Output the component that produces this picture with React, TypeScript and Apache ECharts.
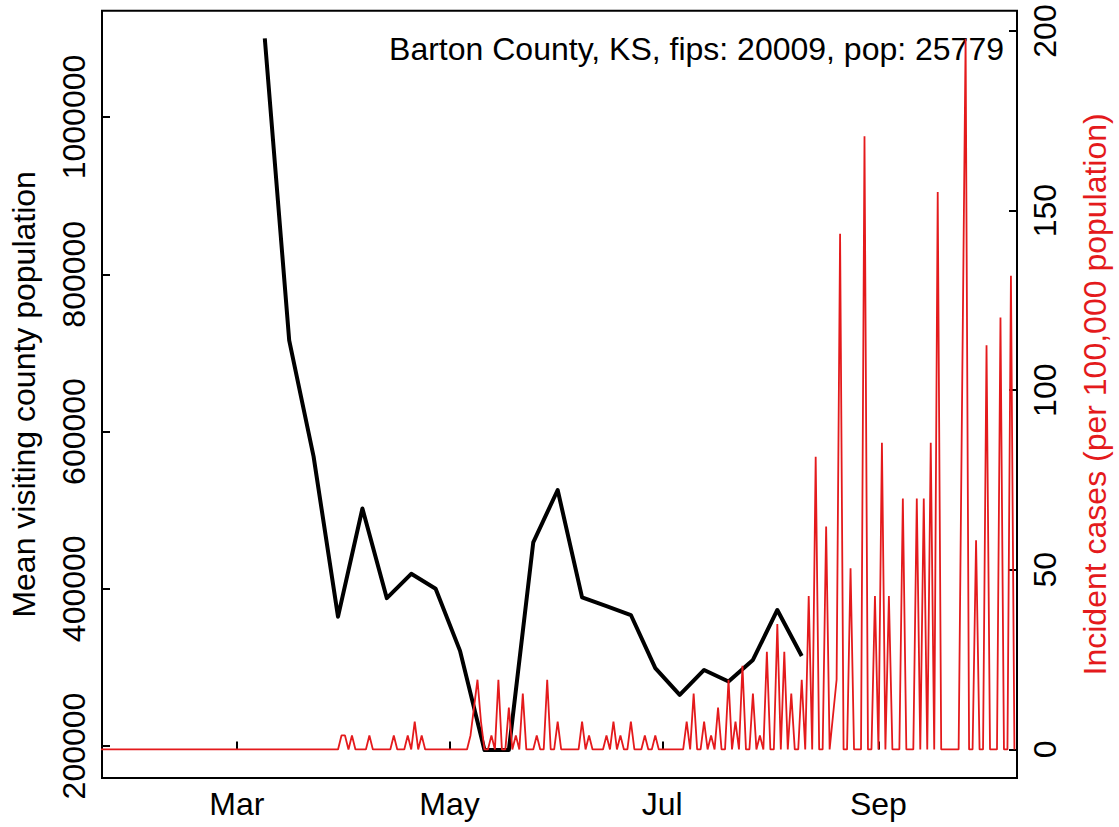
import { useEffect, useRef } from "react";
import * as echarts from "echarts";

const TITLE = "Barton County, KS, fips: 20009, pop: 25779";
const LEFT_NAME = "Mean visiting county population";
const RIGHT_NAME = "Incident cases (per 100,000 population)";

// weekly mean visiting county population
const mobilityDates = [
  "2020-03-09", "2020-03-16", "2020-03-23", "2020-03-30", "2020-04-06", "2020-04-13",
  "2020-04-20", "2020-04-27", "2020-05-04", "2020-05-11", "2020-05-18", "2020-05-25",
  "2020-06-01", "2020-06-08", "2020-06-15", "2020-06-22", "2020-06-29", "2020-07-06",
  "2020-07-13", "2020-07-20", "2020-07-27", "2020-08-03", "2020-08-10",
];
const mobilityValues = [
  1100000, 716000, 568000, 364500, 502000, 388000,
  419000, 400000, 321000, 195000, 195000, 459000,
  525600, 389000, 378000, 366600, 299000, 265000,
  296700, 282000, 309400, 373000, 314500,
];

// daily incident cases per 100,000, one value per day from caseStartDate (null = no record)
const caseStartDate = "2020-01-22";
const caseRates: (number | null)[] = [
  // Jan 22 - Mar 30
  0, 0, 0, 0, 0, 0, 0, 0, 0, 0,
  0, 0, 0, 0, 0, 0, 0, 0, 0, 0,
  0, 0, 0, 0, 0, 0, 0, 0, 0, 0,
  0, 0, 0, 0, 0, 0, 0, 0, 0, 0,
  0, 0, 0, 0, 0, 0, 0, 0, 0, 0,
  0, 0, 0, 0, 0, 0, 0, 0, 0, 0,
  0, 0, 0, 0, 0, 0, 0, 0, 0,
  // Mar 31 -
  3.88, 3.88, 0, 3.88, 0, 0, 0, 0, 3.88, 0,
  0, 0, 0, 0, 0, 3.88, 0, 0, 0, 3.88,
  0, 7.76, 0, 3.88, 0, 0, 0, 0, 0, 0,
  0, 0, 0, 0, 0, 0, 0, 3.88, 11.64, 19.4,
  7.76, 0, 0, 3.88, 0, 19.4, 0, 0, 11.64, 0,
  3.88, 0, 15.52, 0, 0, 0, 3.88, 0, 0, 19.4,
  0, 0, 7.76, 0, 0, 0, 0, 0, 0, 7.76,
  0, 3.88, 0, 0, 0, 0, 3.88, 0, 7.76, 0,
  3.88, 0, 0, 7.76, 0, 0, 0, 3.88, 0, 0,
  3.88, 0, 0, 0, 0, 0, 0, 0, 0, 7.76,
  0, 15.52, 0, 0, 7.76, 0, 3.88, 0, 11.64, 0,
  0, 19.4, 0, 7.76, 0, 23.27, 0, 0, 15.52, 0,
  3.88, 0, 27.15, 0, 0, 34.91, 0, 27.15, 0, 15.52,
  0, 0, 19.4, 0, 42.67, 0, 81.46, 0, 0, 62.07,
  0, null, 19.4, 143.53, 0, 0, 50.43, 0, 0, 0,
  170.68, 0, 0, 42.67, 0, 85.34, 0, 42.67, 0, 0,
  0, 69.82, 0, 0, 0, 69.82, 0, 69.82, 0, 85.34,
  0, 155.17, 0, 0, 0, 0, 0, 0, null, 197.84,
  0, 0, 58.19, 0, 0, 112.49, 0, 0, 0, 120.25,
  0, 0, 131.89, 0,
];

const monthTickDates = ["2020-03-01", "2020-05-01", "2020-07-01", "2020-09-01"];
const monthTickLabels = ["Mar", "May", "Jul", "Sep"];
const leftTicks = [200000, 400000, 600000, 800000, 1000000];
const rightTicks = [0, 50, 100, 150, 200];

const dayNum = (s: string) => {
  const [y, m, d] = s.split("-").map(Number);
  return (Date.UTC(y, m - 1, d) - Date.UTC(2020, 0, 1)) / 86400000;
};

const FONT = "'Liberation Sans', Arial, Helvetica, sans-serif";
const FS = 32;

export default function App() {
  const ref = useRef<HTMLDivElement>(null);
  useEffect(() => {
    if (!ref.current) return;
    const chart = echarts.init(ref.current, undefined, { renderer: "svg" });
    const startDay = dayNum(caseStartDate);
    const caseData = caseRates
      .map((v, i) => [startDay + i, v] as [number, number | null])
      .filter((p) => p[1] !== null);
    const mobData = mobilityDates.map((d, i) => [dayNum(d), mobilityValues[i]]);
    const tickDays = monthTickDates.map(dayNum);

    chart.setOption({
      animation: false,
      textStyle: { fontFamily: FONT },
      grid: {
        left: 100,
        right: 98.5,
        top: 10.7,
        bottom: 49,
        show: true,
        borderColor: "#000",
        borderWidth: 2,
        backgroundColor: "transparent",
      },
      graphic: [
        {
          type: "text",
          right: 115,
          top: 33,
          style: {
            text: TITLE,
            fontSize: FS,
            fontFamily: FONT,
            fill: "#000",
          },
        },
      ],
      xAxis: {
        type: "value",
        min: 21.31,
        max: 283.74,
        axisLine: { show: false },
        splitLine: { show: false },
        axisTick: {
          show: true,
          inside: true,
          length: 8,
          lineStyle: { color: "#000", width: 2 },
          customValues: tickDays,
        },
        axisLabel: {
          show: true,
          customValues: tickDays,
          fontSize: FS,
          fontFamily: FONT,
          color: "#000",
          margin: 10,
          formatter: (v: number) => {
            const idx = tickDays.findIndex((t) => Math.abs(t - v) < 0.01);
            return idx >= 0 ? monthTickLabels[idx] : "";
          },
        },
      },
      yAxis: [
        {
          type: "value",
          position: "left",
          min: 159300,
          max: 1135200,
          name: LEFT_NAME,
          nameLocation: "middle",
          nameRotate: 90,
          nameGap: 62,
          nameTextStyle: { fontSize: FS, fontFamily: FONT, color: "#000" },
          axisLine: { show: false },
          splitLine: { show: false },
          axisTick: {
            show: true,
            inside: true,
            length: 8,
            lineStyle: { color: "#000", width: 2 },
            customValues: leftTicks,
          },
          axisLabel: {
            show: true,
            customValues: leftTicks,
            rotate: 90,
            fontSize: FS,
            fontFamily: FONT,
            color: "#000",
            margin: 12,
            formatter: (v: number) => String(v),
          },
        },
        {
          type: "value",
          position: "right",
          min: -7.96,
          max: 205.65,
          name: RIGHT_NAME,
          nameLocation: "middle",
          nameRotate: 90,
          nameGap: 62,
          nameTextStyle: { fontSize: FS, fontFamily: FONT, color: "#E41A1C" },
          axisLine: { show: false },
          splitLine: { show: false },
          axisTick: {
            show: true,
            inside: true,
            length: 8,
            lineStyle: { color: "#000", width: 2 },
            customValues: rightTicks,
          },
          axisLabel: {
            show: true,
            customValues: rightTicks,
            rotate: 90,
            fontSize: FS,
            fontFamily: FONT,
            color: "#000",
            margin: 12,
            formatter: (v: number) => String(v),
          },
        },
      ],
      series: [
        {
          type: "line",
          yAxisIndex: 0,
          data: mobData,
          showSymbol: false,
          symbol: "none",
          lineStyle: { color: "#000", width: 4, join: "round" },
          z: 2,
          clip: true,
        },
        {
          type: "line",
          yAxisIndex: 1,
          data: caseData,
          showSymbol: false,
          symbol: "none",
          lineStyle: { color: "#E41A1C", width: 1.8 },
          z: 3,
          clip: true,
        },
      ],
    });
    return () => chart.dispose();
  }, []);
  return (
    <div
      ref={ref}
      style={{ position: "fixed", left: 0, top: 0, width: 1119, height: 827, background: "#fff" }}
    />
  );
}
